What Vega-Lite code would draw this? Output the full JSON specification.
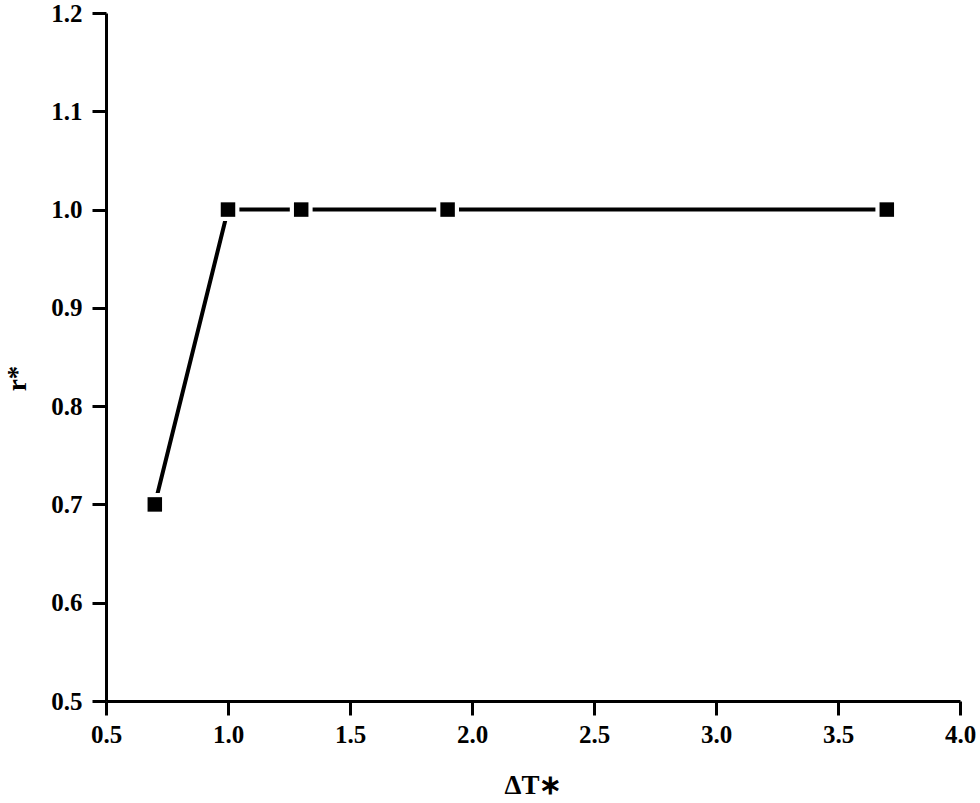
{
  "$schema": "https://vega.github.io/schema/vega-lite/v6.json",
  "autosize": {"type": "none"},
  "width": 854,
  "height": 688,
  "padding": {"left": 106, "top": 13, "right": 20, "bottom": 102},
  "background": "white",
  "config": {
    "view": {"stroke": null},
    "font": "Liberation Serif",
    "axis": {
      "grid": false,
      "domainColor": "black",
      "domainWidth": 3,
      "tickColor": "black",
      "tickWidth": 3,
      "tickSize": 14,
      "labelFont": "Liberation Serif",
      "labelFontWeight": "bold",
      "labelFontSize": 25,
      "labelColor": "black",
      "titleFont": "Liberation Serif",
      "titleFontWeight": "bold",
      "titleFontSize": 27,
      "titleColor": "black"
    }
  },
  "data": {
    "values": [
      {"dT": 0.7, "r": 0.7},
      {"dT": 1.0, "r": 1.0},
      {"dT": 1.3, "r": 1.0},
      {"dT": 1.9, "r": 1.0},
      {"dT": 3.7, "r": 1.0}
    ]
  },
  "encoding": {
    "x": {
      "field": "dT",
      "type": "quantitative",
      "scale": {"domain": [0.5, 4.0], "nice": false, "zero": false},
      "axis": {"values": [0.5, 1.0, 1.5, 2.0, 2.5, 3.0, 3.5, 4.0], "format": ".1f", "title": "ΔT∗", "labelPadding": 7, "titlePadding": 25, "labelFlush": false}
    },
    "y": {
      "field": "r",
      "type": "quantitative",
      "scale": {"domain": [0.5, 1.2], "nice": false, "zero": false},
      "axis": {"values": [0.5, 0.6, 0.7, 0.8, 0.9, 1.0, 1.1, 1.2], "format": ".1f", "title": "r*", "labelPadding": 10, "titlePadding": 19, "titleY": 365, "labelFlush": false}
    }
  },
  "layer": [
    {"mark": {"type": "line", "color": "black", "strokeWidth": 4}},
    {"mark": {"type": "point", "shape": "square", "filled": true, "color": "white", "size": 520, "opacity": 1}},
    {"mark": {"type": "point", "shape": "square", "filled": true, "color": "black", "size": 210, "opacity": 1}}
  ]
}
